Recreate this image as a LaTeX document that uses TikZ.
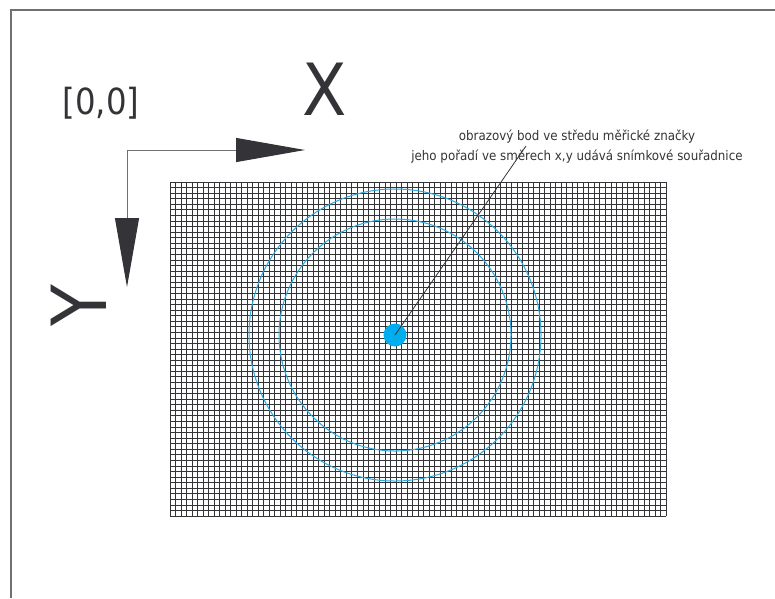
\documentclass[tikz,border=0pt]{standalone}
\usepackage{fontspec}
\setmainfont{DejaVu Sans Condensed}
\usetikzlibrary{arrows.meta}

\definecolor{framegray}{RGB}{112,112,112}
\definecolor{inkgray}{RGB}{52,52,56}
\definecolor{markcyan}{RGB}{0,174,239}
\definecolor{ringcyan}{RGB}{41,169,224}

\tikzset{
  framing/.style={draw=framegray, line width=1.2pt},
  gridline/.style={draw=inkgray, line width=0.75pt},
  axisline/.style={draw=framegray, line width=1pt,
    -{Triangle[length=69pt,width=24pt,color=inkgray,fill=inkgray]}},
  ring/.style={draw=ringcyan, line width=1pt},
  leader/.style={draw=inkgray, line width=0.8pt},
  bigletter/.style={inner sep=0pt, text=inkgray, font=\fontsize{72}{72}\selectfont},
}

\begin{document}
\begin{tikzpicture}[x=1pt, y=-1pt]

  %% ---- ramecek ----
  \draw[framing] (11,598) -- (11,10) -- (775,10);

  %% ---- mrizka ----
  \foreach \i in {0,...,90}
    \draw[gridline] (170+\i*5.511,182) -- ++(0,334);
  \foreach \j in {0,...,60}
    \draw[gridline] (170,182+\j*5.567) -- ++(496,0);

  %% ---- mericka znacka ----
  \draw[ring] (395,335) circle (146);
  \draw[ring] (395,335) circle (116);
  \node[circle, fill=markcyan, minimum size=23pt, inner sep=0pt] (stred) at (395,335) {};

  %% ---- osy ----
  \coordinate (pocatek) at (127,150);
  \coordinate (xkonec) at (305,150);
  \coordinate (ykonec) at (127,287);
  \draw[axisline] (pocatek) -- (xkonec);
  \draw[axisline] (pocatek) -- (ykonec);

  \node[bigletter] (xlabel) at (325,89) {X};
  \node[bigletter, rotate=90, font=\fontsize{76}{76}\selectfont] (ylabel) at (79,306) {Y};
  \node[inner sep=0pt, text=inkgray, font=\fontsize{36}{36}\selectfont] (nula) at (101,103) {[0,0]};

  %% ---- popis ----
  \node[inner sep=1pt, align=center, text=inkgray, font=\fontsize{13.2}{20}\selectfont] (popis) at (577,147)
    {obrazový bod ve středu měřické značky\\jeho pořadí ve směrech x,y udává snímkové souřadnice};
  \coordinate (popispata) at (526,146);
  \draw[leader] (stred.center) -- (popispata);

  \pgfresetboundingbox
  \path[use as bounding box] (0,0) rectangle (775,598);
\end{tikzpicture}
\end{document}
